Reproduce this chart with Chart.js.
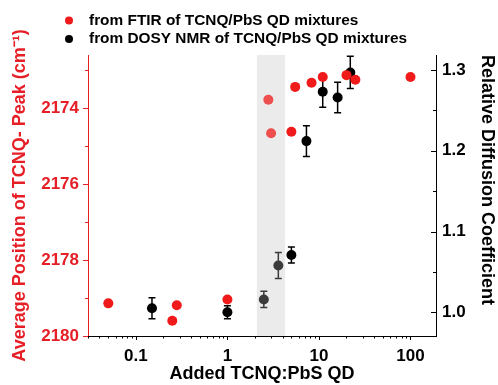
<!DOCTYPE html>
<html>
<head>
<meta charset="utf-8">
<script src="https://cdn.jsdelivr.net/npm/chart.js@4.4.0/dist/chart.umd.min.js"></script>
<style>
html,body{margin:0;padding:0;background:#fff;}
#wrap{width:498px;height:385px;position:relative;}
</style>
</head>
<body>
<div id="wrap"><canvas id="c" width="498" height="385"></canvas></div>
<script>
// ---- data ----
const ftirLabel = 'from FTIR of TCNQ/PbS QD mixtures';
const dosyLabel = 'from DOSY NMR of TCNQ/PbS QD mixtures';
const ftirX = [0.05, 0.25, 0.28, 1, 2.8, 3, 5, 5.5, 8.3, 11, 20, 25, 100];
const ftirY = [2179.14, 2179.6, 2179.19, 2179.04, 2173.78, 2174.66, 2174.62, 2173.44, 2173.33, 2173.18, 2173.13, 2173.25, 2173.18];
const dosyX = [0.15, 1, 2.5, 3.6, 5, 7.3, 11, 16, 22];
const dosyY = [1.005, 1.0, 1.016, 1.058, 1.071, 1.212, 1.273, 1.266, 1.297];
const dosyErr = [0.013, 0.008, 0.010, 0.016, 0.010, 0.019, 0.019, 0.019, 0.020];
const xTicks = [0.1, 1, 10, 100];
const yLeftTicks = [2174, 2176, 2178, 2180];
const yLeftMinor = [2173, 2175, 2177, 2179];
const yRightTicks = [1.0, 1.1, 1.2, 1.3];
const yRightMinor = [1.05, 1.15, 1.25];
const bandRange = [2.1, 4.25];

const RED = '#e61e26';
const FONT = "Arial, 'Liberation Sans', sans-serif";

const bandPlugin = {
  id: 'band',
  beforeDatasetsDraw(chart) {
    const {ctx, chartArea, scales} = chart;
    const x0 = scales.x.getPixelForValue(bandRange[0]);
    const x1 = scales.x.getPixelForValue(bandRange[1]);
    ctx.save();
    ctx.fillStyle = '#ebebeb';
    ctx.fillRect(x0, chartArea.top, x1 - x0, chartArea.bottom - chartArea.top);
    // error bars
    ctx.strokeStyle = '#000';
    ctx.lineWidth = 1.5;
    dosyX.forEach((xv, i) => {
      const px = scales.x.getPixelForValue(xv);
      const pt = scales.yR.getPixelForValue(dosyY[i] + dosyErr[i]);
      const pb = scales.yR.getPixelForValue(dosyY[i] - dosyErr[i]);
      ctx.beginPath();
      ctx.moveTo(px, pt); ctx.lineTo(px, pb);
      ctx.moveTo(px - 3.5, pt); ctx.lineTo(px + 3.5, pt);
      ctx.moveTo(px - 3.5, pb); ctx.lineTo(px + 3.5, pb);
      ctx.stroke();
    });
    ctx.restore();
  },
  afterDatasetsDraw(chart) {
    const {ctx, chartArea, scales} = chart;
    const x0 = scales.x.getPixelForValue(bandRange[0]);
    const x1 = scales.x.getPixelForValue(bandRange[1]);
    ctx.save();
    ctx.fillStyle = 'rgba(235,235,235,0.25)';
    ctx.fillRect(x0, chartArea.top, x1 - x0, chartArea.bottom - chartArea.top);
    ctx.restore();
  }
};

const tickPlugin = {
  id: 'ticks',
  afterDraw(chart) {
    const {ctx, chartArea, scales} = chart;
    ctx.save();
    ctx.lineWidth = 1;
    ctx.strokeStyle = '#000';
    const xs = scales.x;
    ctx.beginPath();
    for (let e = -2; e <= 2; e++) {
      for (let m = 1; m <= 9; m++) {
        const v = m * Math.pow(10, e);
        if (v < xs.min || v > xs.max) continue;
        const px = Math.round(xs.getPixelForValue(v)) + 0.5;
        const len = m === 1 ? 4 : 2.5;
        ctx.moveTo(px, chartArea.bottom);
        ctx.lineTo(px, chartArea.bottom + len);
      }
    }
    ctx.stroke();
    ctx.strokeStyle = RED;
    const yl = scales.yL;
    ctx.beginPath();
    yLeftTicks.forEach(v => {
      const py = Math.round(yl.getPixelForValue(v)) + 0.5;
      ctx.moveTo(chartArea.left, py); ctx.lineTo(chartArea.left - 5, py);
    });
    yLeftMinor.forEach(v => {
      const py = Math.round(yl.getPixelForValue(v)) + 0.5;
      ctx.moveTo(chartArea.left, py); ctx.lineTo(chartArea.left - 3, py);
    });
    ctx.stroke();
    ctx.strokeStyle = '#000';
    const yr = scales.yR;
    ctx.beginPath();
    yRightTicks.forEach(v => {
      const py = Math.round(yr.getPixelForValue(v)) + 0.5;
      ctx.moveTo(chartArea.right, py); ctx.lineTo(chartArea.right - 5, py);
    });
    yRightMinor.forEach(v => {
      const py = Math.round(yr.getPixelForValue(v)) + 0.5;
      ctx.moveTo(chartArea.right, py); ctx.lineTo(chartArea.right - 3, py);
    });
    ctx.stroke();
    // legend
    ctx.font = 'bold 15.4px ' + FONT;
    ctx.textBaseline = 'middle';
    ctx.textAlign = 'left';
    const items = [[ftirLabel, '#f01a1a', 20.5], [dosyLabel, '#000', 39]];
    items.forEach(([t, c, y]) => {
      ctx.fillStyle = c;
      ctx.beginPath(); ctx.arc(69, y, 4, 0, Math.PI * 2); ctx.fill();
      ctx.fillStyle = '#000';
      ctx.fillText(t, 89, y);
    });
    ctx.restore();
  }
};

new Chart(document.getElementById('c'), {
  type: 'scatter',
  data: {
    datasets: [
      {
        label: ftirLabel,
        data: ftirX.map((x, i) => ({x, y: ftirY[i]})),
        yAxisID: 'yL',
        backgroundColor: '#f01a1a',
        borderColor: '#f01a1a',
        pointRadius: 5,
        borderWidth: 0
      },
      {
        label: dosyLabel,
        data: dosyX.map((x, i) => ({x, y: dosyY[i]})),
        yAxisID: 'yR',
        backgroundColor: '#000',
        borderColor: '#000',
        pointRadius: 5,
        borderWidth: 0
      }
    ]
  },
  options: {
    responsive: false,
    animation: false,
    layout: {padding: {top: 55, left: 0, right: 0, bottom: 0}},
    plugins: {legend: {display: false}, tooltip: {enabled: false}},
    scales: {
      x: {
        type: 'logarithmic',
        position: 'bottom',
        min: 0.03,
        max: 190,
        afterBuildTicks: s => { s.ticks = xTicks.map(v => ({value: v})); },
        afterFit: s => { s.height = 49; },
        grid: {display: false, drawTicks: false},
        border: {display: true, color: '#000', width: 1},
        ticks: {
          autoSkip: false, maxRotation: 0, padding: 10,
          color: '#000', font: {family: FONT, size: 17, weight: 'bold'},
          callback: v => String(v)
        },
        title: {display: true, text: 'Added TCNQ:PbS QD', color: '#000',
                font: {family: FONT, size: 18, weight: 'bold'}, padding: {top: 0, bottom: 0}}
      },
      yL: {
        type: 'linear',
        position: 'left',
        reverse: true,
        min: 2172.6,
        max: 2180,
        afterBuildTicks: s => { s.ticks = yLeftTicks.map(v => ({value: v})); },
        afterFit: s => { s.width = 88; },
        grid: {display: false, drawTicks: false},
        border: {display: true, color: RED, width: 1},
        ticks: {padding: 9, color: RED, font: {family: FONT, size: 17, weight: 'bold'},
                callback: v => String(v)},
        title: {display: true, text: 'Average Position of TCNQ- Peak (cm\u207B\u00B9)', color: RED,
                font: {family: FONT, size: 18, weight: 'bold'}, padding: {top: 9, bottom: 0}}
      },
      yR: {
        type: 'linear',
        position: 'right',
        min: 0.9707,
        max: 1.3186,
        afterBuildTicks: s => { s.ticks = yRightTicks.map(v => ({value: v})); },
        afterFit: s => { s.width = 62; },
        grid: {display: false, drawTicks: false},
        border: {display: true, color: '#000', width: 1},
        ticks: {padding: 6, color: '#000', font: {family: FONT, size: 17, weight: 'bold'},
                callback: v => Number(v).toFixed(1)},
        title: {display: true, text: 'Relative Diffusion Coefficient', color: '#000', align: 'end',
                font: {family: FONT, size: 18, weight: 'bold'}, padding: {top: 0, bottom: 0}}
      }
    }
  },
  plugins: [bandPlugin, tickPlugin]
});
</script>
</body>
</html>
